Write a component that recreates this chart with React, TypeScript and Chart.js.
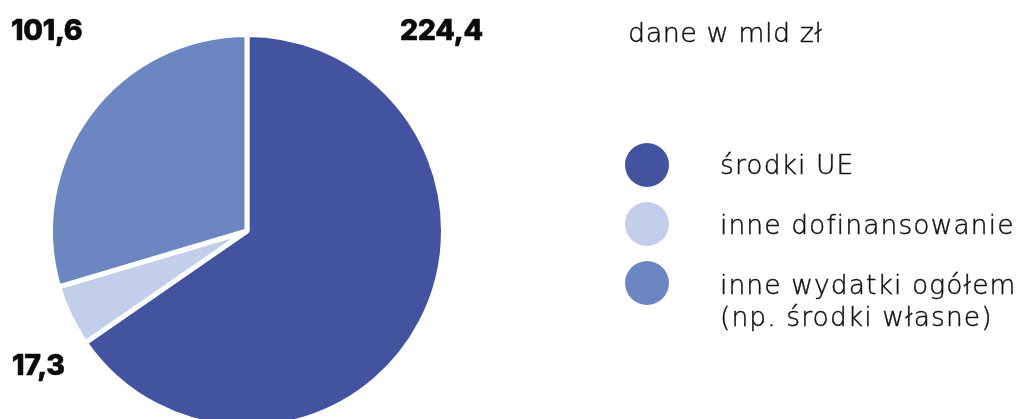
import React, { useEffect, useRef } from "react";
import { Chart, registerables } from "chart.js";

Chart.register(...registerables);

const categories = ["środki UE", "inne dofinansowanie", "inne wydatki ogółem (np. środki własne)"];
const legendLines = [["środki UE"], ["inne dofinansowanie"], ["inne wydatki ogółem", "(np. środki własne)"]];
const values = [224.4, 17.3, 101.6];
const valueLabels = ["224,4", "17,3", "101,6"];
const colors = ["#4353A0", "#C2CEEA", "#6C86C2"];
const unitLabel = "dane w mld zł";

const CANVAS_W = 1024;
const CANVAS_H = 460;
const LABEL_FONT = 'Inter, "Open Sans", sans-serif';
const TEXT_FONT = '"DejaVu Sans", "Open Sans", sans-serif';

// value label layout: [left, baseline]
const labelPos = [
  [400, 40],
  [12, 375],
  [11, 40],
];
const LABEL_SIZE = 28.5;

const legendCircleX = 647;
const legendRowY = [165, 224, 283];
const legendTextX = 720;
const legendBase = [[174], [234], [294, 326]];
const LEGEND_SIZE = 26.5;

export default function App() {
  const ref = useRef<HTMLCanvasElement | null>(null);

  useEffect(() => {
    document.body.style.overflow = "hidden";
    const ctx = ref.current!.getContext("2d")!;
    const chart = new Chart(ctx, {
      type: "pie",
      data: {
        labels: categories,
        datasets: [
          {
            data: values,
            backgroundColor: colors,
            borderColor: "#ffffff",
            borderWidth: 5,
          },
        ],
      },
      options: {
        responsive: false,
        animation: false,
        layout: { padding: { left: 48, top: 32, right: 578, bottom: 30 } },
        plugins: {
          legend: { display: false },
          tooltip: { enabled: false },
          title: { display: false },
        },
      },
    });
    return () => chart.destroy();
  }, []);

  // baseline helpers: place a line box so its baseline lands on the given y
  const topInter = (baseline: number, size: number) => baseline - 0.84 * size;
  const topDV = (baseline: number, size: number) => baseline - 0.846 * size;

  const lightText = {
    fontFamily: TEXT_FONT,
    fontWeight: 200,
    color: "#111",
    WebkitTextStroke: "0.45px #111",
    whiteSpace: "nowrap" as const,
  };

  return (
    <div
      style={{
        position: "fixed",
        left: 0,
        top: 0,
        width: 1024,
        height: 419,
        overflow: "hidden",
        background: "#fff",
      }}
    >
      <canvas
        ref={ref}
        width={CANVAS_W}
        height={CANVAS_H}
        style={{ position: "absolute", left: 0, top: 0, width: CANVAS_W, height: CANVAS_H }}
      />
      {valueLabels.map((t, i) => (
        <div
          key={"v" + i}
          style={{
            position: "absolute",
            left: labelPos[i][0],
            top: topInter(labelPos[i][1], LABEL_SIZE),
            fontFamily: LABEL_FONT,
            fontSize: LABEL_SIZE,
            lineHeight: LABEL_SIZE + "px",
            fontWeight: 800,
            letterSpacing: "-0.3px",
            color: "#0a0a0a",
            WebkitTextStroke: "0.6px #0a0a0a",
            whiteSpace: "nowrap",
          }}
        >
          {t}
        </div>
      ))}
      <div
        style={{
          ...lightText,
          position: "absolute",
          left: 628,
          top: topDV(42, 27),
          fontSize: 27,
          lineHeight: "27px",
          letterSpacing: "0.5px",
        }}
      >
        {unitLabel}
      </div>
      {legendLines.map((lines, i) => (
        <React.Fragment key={"l" + i}>
          <div
            style={{
              position: "absolute",
              left: legendCircleX - 22,
              top: legendRowY[i] - 22,
              width: 44,
              height: 44,
              borderRadius: "50%",
              background: colors[i],
            }}
          />
          {lines.map((ln, j) => (
            <div
              key={j}
              style={{
                ...lightText,
                position: "absolute",
                left: legendTextX,
                top: topDV(legendBase[i][j], LEGEND_SIZE),
                fontSize: LEGEND_SIZE,
                lineHeight: LEGEND_SIZE + "px",
                letterSpacing: "1.1px",
              }}
            >
              {ln}
            </div>
          ))}
        </React.Fragment>
      ))}
    </div>
  );
}
